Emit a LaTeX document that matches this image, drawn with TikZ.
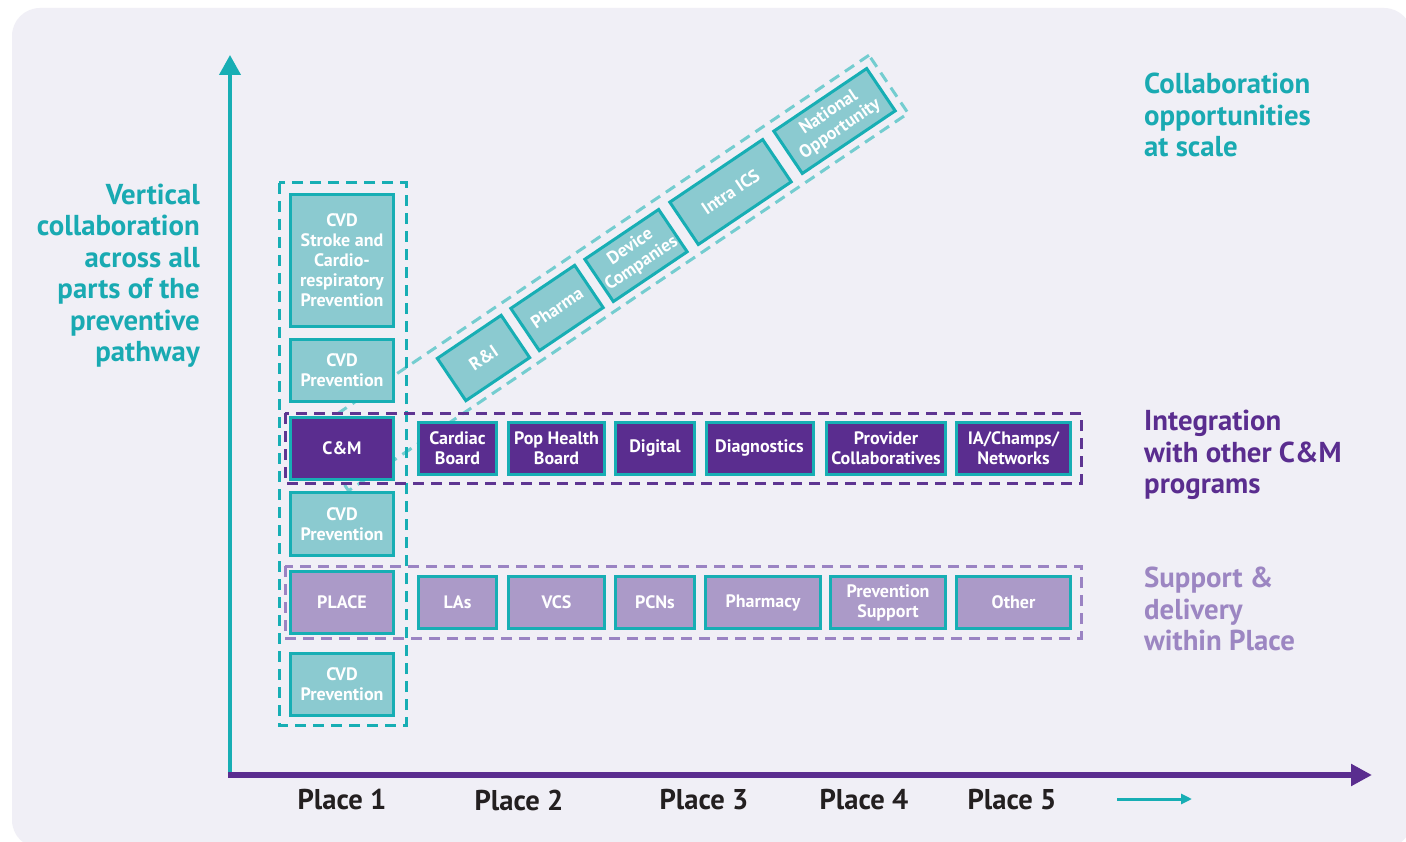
\documentclass[tikz,border=0pt]{standalone}
\usepackage{fontspec}
\setmainfont{PT Sans}
\usetikzlibrary{arrows.meta}
\definecolor{bg}{HTML}{F0EFF6}
\definecolor{tealS}{HTML}{17AEB4}
\definecolor{tealF}{HTML}{8BCAD0}
\definecolor{tealD}{HTML}{74CDD0}
\definecolor{purp}{HTML}{5A2D8F}
\definecolor{purpD}{HTML}{5E3592}
\definecolor{lav}{HTML}{AB9AC8}
\definecolor{lavD}{HTML}{9A83C3}
\definecolor{tealT}{HTML}{19AAB2}
\definecolor{lavT}{HTML}{9C86C2}
\definecolor{ink}{HTML}{231F20}
\newcommand\boxfont{\bfseries\fontsize{18}{20}\selectfont}
\newcommand\bigfont{\bfseries\fontsize{28.8}{31.5}\selectfont}
\newcommand\placefont{\bfseries\fontsize{28.6}{30}\selectfont}
\tikzset{
  tbox/.style={draw=tealS, fill=tealF, line width=3pt, text=white, font=\boxfont, align=center, inner sep=0pt},
  pbox/.style={tbox, fill=purp},
  lbox/.style={tbox, fill=lav},
  rowp/.style={pbox, minimum height=52pt},
  rowl/.style={lbox, minimum height=52pt},
  colbox/.style={tbox, minimum width=103pt},
  diag/.style={tbox, rotate=34, minimum height=51pt},
  dashbox/.style={line width=3pt, dash pattern=on 11pt off 7pt},
  biglabel/.style={font=\bigfont, inner sep=0pt},
  placelabel/.style={font=\placefont, text=ink, inner sep=0pt},
}
\begin{document}
\begin{tikzpicture}[x=1pt,y=-1pt]
\useasboundingbox (0,0) rectangle (1406,842);
\clip (0,0) rectangle (1406,842);
\fill[white] (0,0) rectangle (1406,842);
\fill[bg, rounded corners=28pt] (12,8) rectangle (1412,848);

% diagonal dashed band
\node[draw=tealD, dashbox, rotate=34, minimum width=675pt, minimum height=70pt, inner sep=0pt] (band) at (608.75,273) {};

% dashed groups
\draw[tealS, dashbox] (279,183) rectangle (406,725);
\draw[purpD, dashbox] (285,413) rectangle (1081,483);
\draw[lavD, dashbox] (285,566) rectangle (1081,638);

% axes
\coordinate (origin) at (230,777);
\coordinate (ytip) at (230,55);
\coordinate (xstart) at (228,775);
\coordinate (xtip) at (1372,775);
\draw[tealS, line width=4pt, -{Triangle[length=20pt,width=21pt]}] (origin) -- (ytip);
\draw[purp, line width=6pt, -{Triangle[length=21pt,width=21pt]}] (xstart) -- (xtip);

% column boxes
\node[colbox, minimum height=132pt] (stroke) at (342,260.5) {CVD\\Stroke and\\Cardio-\\respiratory\\Prevention};
\node[colbox, minimum height=62pt] (cvda) at (342,370.5) {CVD\\Prevention};
\node[colbox, fill=purp, minimum height=62pt] (cm) at (342,448.5) {C\&M};
\node[colbox, minimum height=63pt] (cvdb) at (342,524) {CVD\\Prevention};
\node[colbox, fill=lav, minimum height=62pt] (place) at (342,602.5) {PLACE};
\node[colbox, minimum height=62pt] (cvdc) at (342,684.5) {CVD\\Prevention};

% purple row
\node[rowp, minimum width=78pt] (cardiac) at (457.5,448.5) {Cardiac\\Board};
\node[rowp, minimum width=96pt] (pophealth) at (556.5,448.5) {Pop Health\\Board};
\node[rowp, minimum width=79pt] (digital) at (655,448.5) {Digital};
\node[rowp, minimum width=107pt] (diagnostics) at (759.5,448.5) {Diagnostics};
\node[rowp, minimum width=119pt] (provider) at (886,448.5) {Provider\\Collaboratives};
\node[rowp, minimum width=114pt] (ia) at (1013.5,448.5) {IA/Champs/\\Networks};

% lavender row
\node[rowl, minimum width=78pt] (las) at (457.5,602.5) {LAs};
\node[rowl, minimum width=96pt] (vcs) at (556.5,602.5) {VCS};
\node[rowl, minimum width=79pt] (pcns) at (655,602.5) {PCNs};
\node[rowl, minimum width=115pt] (pharmacy) at (763,602.5) {Pharmacy};
\node[rowl, minimum width=115pt] (prevsup) at (888,602.5) {Prevention\\Support};
\node[rowl, minimum width=114pt] (other) at (1013.5,602.5) {Other};

% diagonal boxes
\node[diag, minimum width=77pt] (ri) at (483.5,358) {R\&I};
\node[diag, minimum width=77pt] (pharma) at (557,308) {Pharma};
\node[diag, minimum width=89pt] (device) at (636,255.5) {Device\\Companies};
\node[diag, minimum width=112pt] (intra) at (730.5,192) {Intra ICS};
\node[diag, minimum width=112pt] (national) at (834.5,121) {National\\Opportunity};

% labels
\node[biglabel, text=tealT, align=right, anchor=north east] (vlabel) at (200,183.5) {Vertical\\collaboration\\across all\\parts of the\\preventive\\pathway};
\node[biglabel, text=tealT, align=left, anchor=north west] (collab) at (1144,73) {Collaboration\\opportunities\\at scale};
\node[biglabel, text=purp, align=left, anchor=north west] (integ) at (1144,410) {Integration\\with other C\&M\\programs};
\node[biglabel, text=lavT, align=left, anchor=north west] (support) at (1144,567) {Support \&\\delivery\\within Place};

% place labels
\node[placelabel] (p1) at (342,800) {Place 1};
\node[placelabel] (p2) at (519,800) {Place 2};
\node[placelabel] (p3) at (704,800) {Place 3};
\node[placelabel] (p4) at (864,800) {Place 4};
\node[placelabel] (p5) at (1012,800) {Place 5};
\coordinate (ta) at (1117,799);
\coordinate (tb) at (1192,799);
\draw[tealS, line width=3pt, -{Triangle[length=11pt,width=10pt]}] (ta) -- (tb);
\end{tikzpicture}
\end{document}
